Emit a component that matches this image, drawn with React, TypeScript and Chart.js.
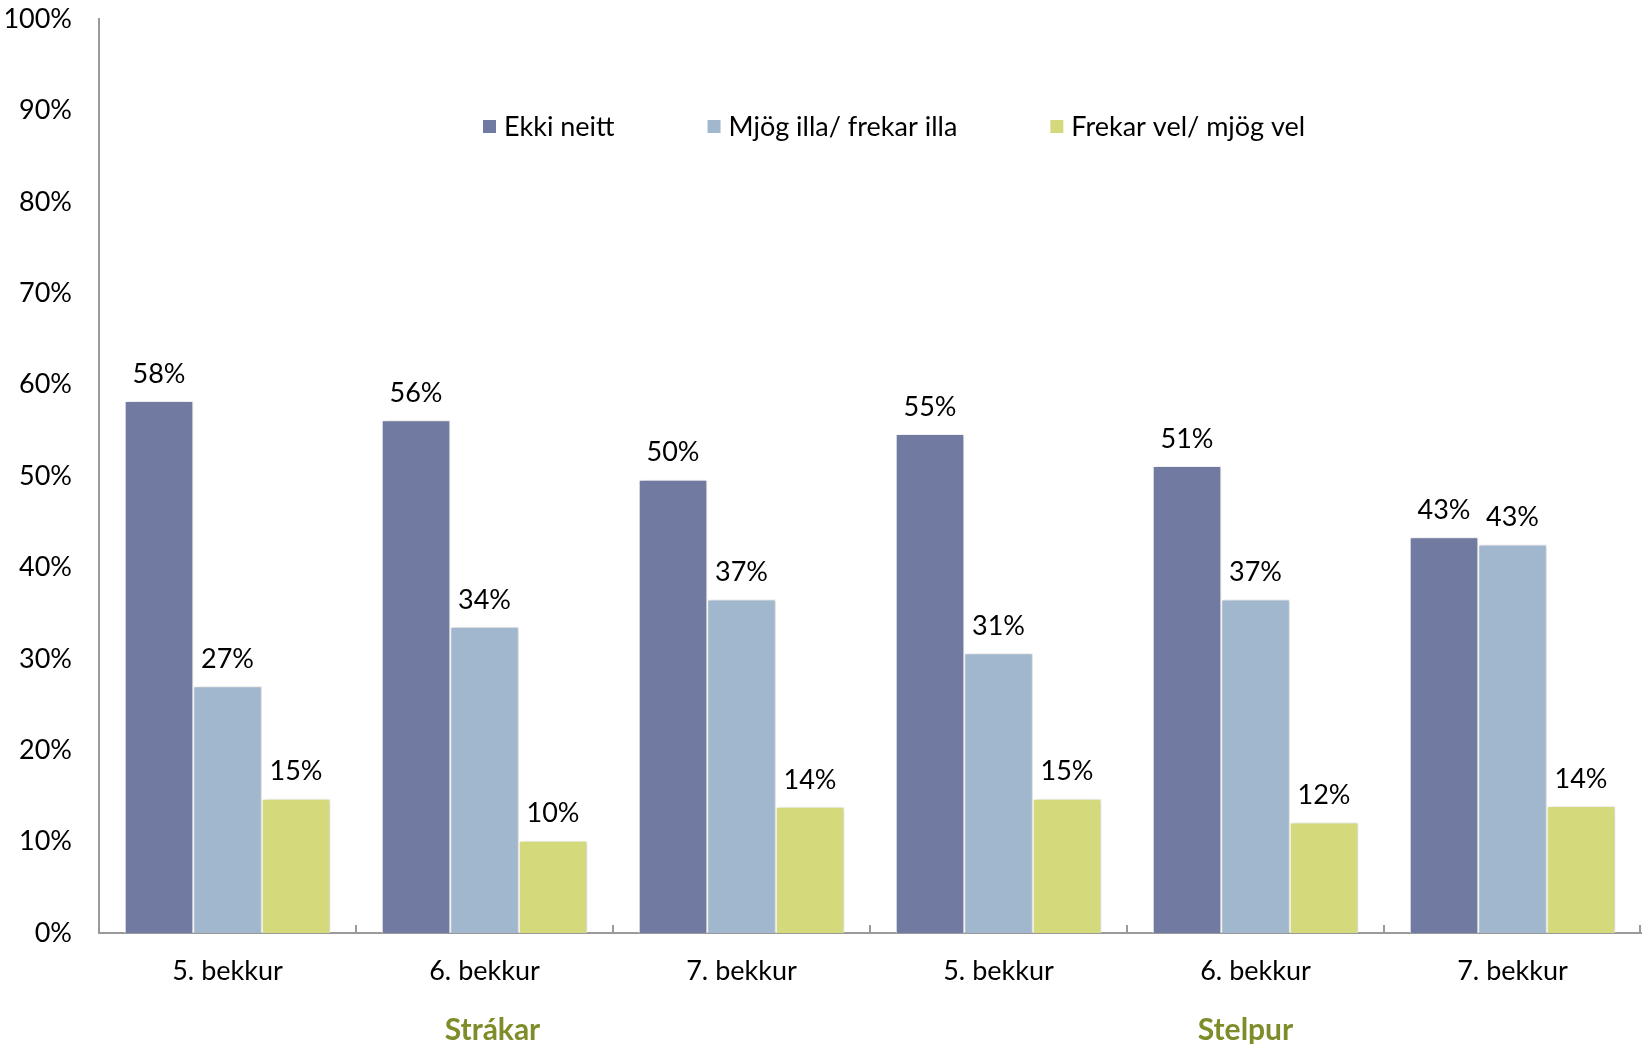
import React, { useEffect, useRef } from "react";
import { Chart, registerables } from "chart.js";

Chart.register(...registerables);

const categories = ["5. bekkur", "6. bekkur", "7. bekkur", "5. bekkur", "6. bekkur", "7. bekkur"];
const groupLabels = ["Strákar", "Stelpur"];
const groupCenterIndex = [1, 4];
const seriesNames = ["Ekki neitt", "Mjög illa/ frekar illa", "Frekar vel/ mjög vel"];
const ekkiNeitt = [58.2, 56.1, 49.6, 54.6, 51.1, 43.3];
const mjogIlla = [27.0, 33.5, 36.5, 30.6, 36.5, 42.5];
const frekarVel = [14.7, 10.1, 13.8, 14.7, 12.1, 13.9];
const yTickMax = 100;
const yTickStep = 10;

const colors = ["#717AA0", "#A1B7CE", "#D4DA7C"];
const FONT = "Lato, 'Open Sans', sans-serif";
const AXIS_COLOR = "#9A9A9A";

const shadowPlugin = {
  id: "barShadow",
  beforeDatasetsDraw(chart: any) {
    const ctx = chart.ctx;
    ctx.save();
    ctx.shadowColor = "rgba(0,0,0,0.18)";
    ctx.shadowBlur = 4;
    ctx.shadowOffsetX = 2;
    ctx.shadowOffsetY = 0;
  },
  afterDatasetsDraw(chart: any) {
    chart.ctx.restore();
  },
};

const decorPlugin = {
  id: "decor",
  afterDraw(chart: any) {
    const ctx = chart.ctx;
    const area = chart.chartArea;
    const xs = chart.scales.x;
    const n = categories.length;
    const step = (area.right - area.left) / n;
    ctx.save();
    // tick marks at category boundaries (pointing up)
    ctx.strokeStyle = AXIS_COLOR;
    ctx.lineWidth = 2;
    for (let i = 1; i <= n; i++) {
      const x = Math.round(area.left + i * step) - (i === n ? 1 : 0);
      ctx.beginPath();
      ctx.moveTo(x, area.bottom);
      ctx.lineTo(x, area.bottom - 8);
      ctx.stroke();
    }
    // data labels
    ctx.fillStyle = "#000";
    ctx.font = `27px ${FONT}`;
    ctx.textAlign = "center";
    ctx.textBaseline = "middle";
    chart.data.datasets.forEach((ds: any, di: number) => {
      const meta = chart.getDatasetMeta(di);
      meta.data.forEach((bar: any, i: number) => {
        ctx.fillText(Math.round(ds.data[i]) + "%", bar.x, bar.y - 27);
      });
    });
    // group labels
    ctx.fillStyle = "#7F8C2A";
    ctx.font = `bold 30px ${FONT}`;
    groupLabels.forEach((g, gi) => {
      const x = xs.getPixelForValue(groupCenterIndex[gi]);
      ctx.fillText(g, x + (gi === 0 ? 8 : -10), area.bottom + 97);
    });
    // legend
    ctx.font = `27px ${FONT}`;
    ctx.textAlign = "left";
    let x = area.left + 384;
    const y = area.top + 107;
    seriesNames.forEach((name, i) => {
      ctx.fillStyle = colors[i];
      ctx.fillRect(x, y - 6, 13, 13);
      ctx.fillStyle = "#000";
      ctx.fillText(name, x + 21, y + 1);
      x += 21 + ctx.measureText(name).width + 93;
    });
    ctx.restore();
  },
};

export default function App() {
  const ref = useRef<HTMLCanvasElement>(null);
  useEffect(() => {
    if (!ref.current) return;
    const chart = new Chart(ref.current, {
      type: "bar",
      data: {
        labels: categories,
        datasets: [ekkiNeitt, mjogIlla, frekarVel].map((d, i) => ({
          label: seriesNames[i],
          data: d,
          backgroundColor: colors[i],
          borderColor: "#FFFFFF",
          borderWidth: 1,
          borderSkipped: "bottom",
          categoryPercentage: 0.8,
          barPercentage: 1.0,
        })),
      },
      options: {
        animation: false,
        responsive: true,
        maintainAspectRatio: false,
        layout: { padding: { top: 19, right: 6, left: 0, bottom: 0 } },
        plugins: {
          legend: { display: false },
          tooltip: { enabled: false },
        },
        scales: {
          x: {
            grid: { display: false, drawTicks: false },
            border: { display: true, color: AXIS_COLOR, width: 2 },
            ticks: {
              color: "#000",
              font: { family: FONT, size: 27 },
              padding: 22,
              maxRotation: 0,
              autoSkip: false,
            },
            afterFit(scale: any) {
              scale.height = 111;
            },
          },
          y: {
            min: 0,
            max: yTickMax,
            grid: { display: false, drawTicks: false },
            border: { display: true, color: AXIS_COLOR, width: 2 },
            ticks: {
              stepSize: yTickStep,
              color: "#000",
              font: { family: FONT, size: 27 },
              padding: 27,
              callback: (v: any) => v + "%",
            },
            afterFit(scale: any) {
              scale.width = 99;
              scale.paddingTop = 0;
              scale.paddingBottom = 0;
            },
          },
        },
      },
      plugins: [shadowPlugin, decorPlugin],
    });
    return () => chart.destroy();
  }, []);
  return (
    <div style={{ position: "fixed", left: 0, top: 0, width: 1647, height: 1044, background: "#fff" }}>
      <canvas ref={ref} />
    </div>
  );
}
